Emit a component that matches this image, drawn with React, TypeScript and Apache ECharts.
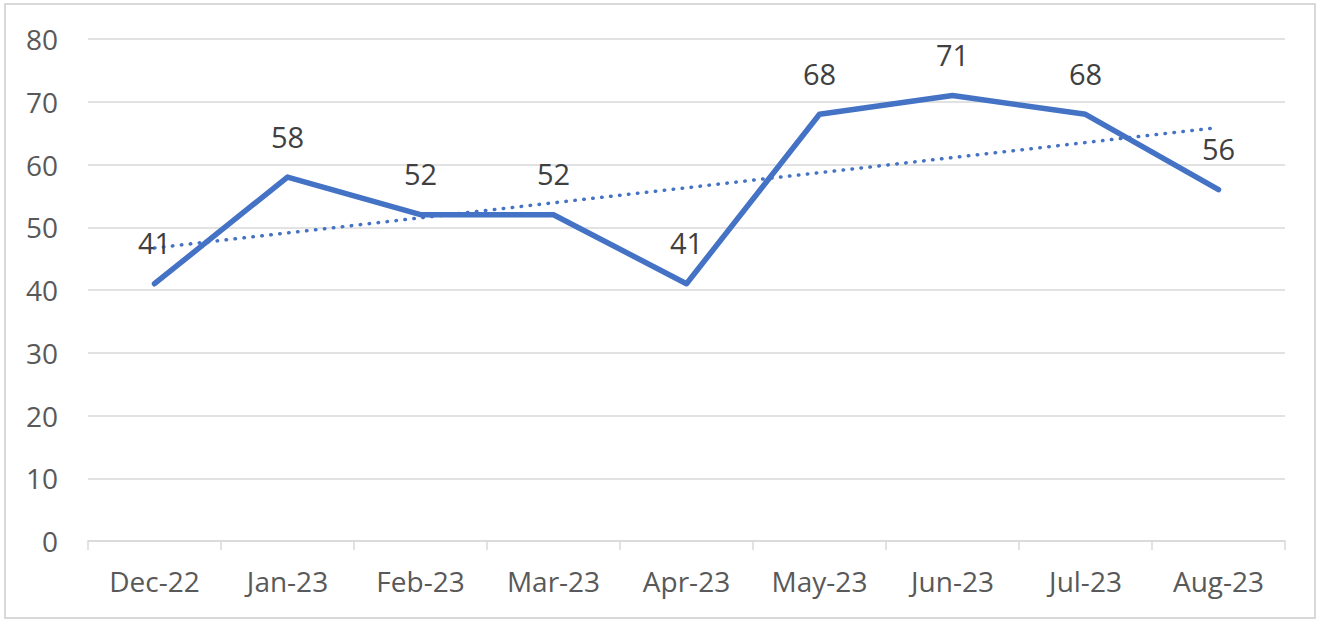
import React, { useEffect, useRef } from "react";
import * as echarts from "echarts";

const categories = ["Dec-22", "Jan-23", "Feb-23", "Mar-23", "Apr-23", "May-23", "Jun-23", "Jul-23", "Aug-23"];
const values = [41, 58, 52, 52, 41, 68, 71, 68, 56];
// Linear trendline endpoints (first and last category)
const trendStart = 46.7;
const trendEnd = 65.9;

export default function App() {
  const ref = useRef<HTMLDivElement>(null);
  useEffect(() => {
    if (!ref.current) return;
    const chart = echarts.init(ref.current, null, { renderer: "svg" });
    const font = "'Open Sans', 'Liberation Sans', sans-serif";
    chart.setOption({
      animation: false,
      backgroundColor: "#ffffff",
      graphic: [
        {
          type: "rect",
          shape: { x: 5, y: 4, width: 1310, height: 614 },
          style: { fill: "none", stroke: "#d9d9d9", lineWidth: 2 },
          silent: true,
        },
      ],
      grid: { left: 88, right: 37, top: 39, bottom: 86, containLabel: false },
      xAxis: {
        type: "category",
        data: categories,
        boundaryGap: true,
        axisLine: { show: true, lineStyle: { color: "#d9d9d9", width: 1.5 } },
        axisTick: { show: true, length: 9, lineStyle: { color: "#d9d9d9", width: 1.5 } },
        axisLabel: { color: "#595959", fontSize: 28, fontFamily: font, margin: 26 },
        splitLine: { show: false },
      },
      yAxis: {
        type: "value",
        min: 0,
        max: 80,
        interval: 10,
        axisLine: { show: false },
        axisTick: { show: false },
        axisLabel: { color: "#595959", fontSize: 28, fontFamily: font, margin: 30 },
        splitLine: { show: true, lineStyle: { color: "#d9d9d9", width: 1.5 } },
      },
      series: [
        {
          type: "line",
          data: values,
          symbol: "circle",
          symbolSize: 1,
          showSymbol: true,
          lineStyle: { color: "#4472c4", width: 5.5, cap: "round", join: "round" },
          itemStyle: { color: "rgba(0,0,0,0)", borderWidth: 0 },
          label: {
            show: true,
            position: "top",
            distance: 26,
            color: "#404040",
            fontSize: 29,
            fontFamily: font,
          },
          labelLayout: { hideOverlap: false },
          z: 3,
        },
        {
          type: "line",
          data: [
            [0, trendStart],
            [categories.length - 1, trendEnd],
          ],
          symbol: "none",
          lineStyle: { color: "#4472c4", width: 3.5, type: [0.5, 8.5], cap: "round" },
          z: 2,
        },
      ],
    });
    return () => chart.dispose();
  }, []);
  return (
    <div
      ref={ref}
      style={{ position: "fixed", left: 0, top: 0, width: 1322, height: 627 }}
    />
  );
}
